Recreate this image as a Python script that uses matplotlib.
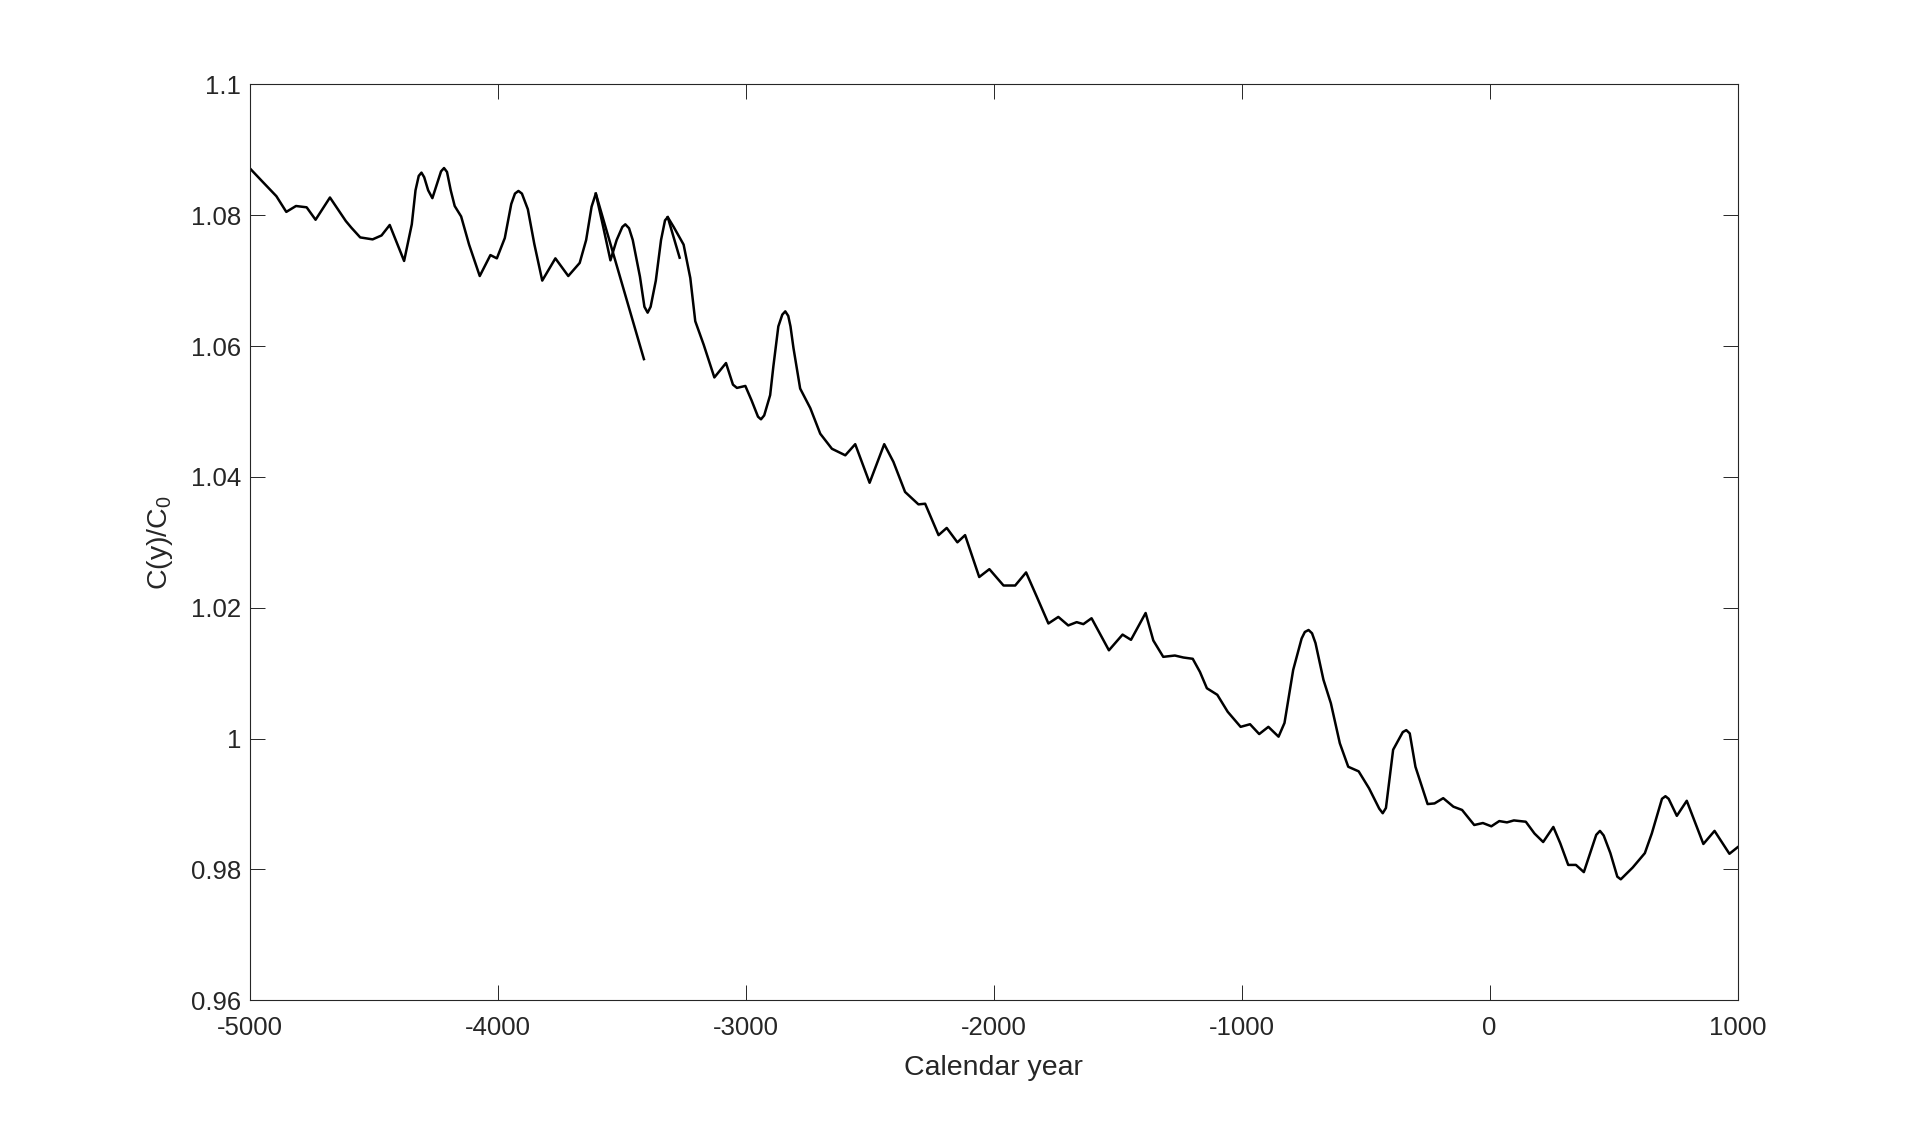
import matplotlib
matplotlib.use("Agg")
import matplotlib.pyplot as plt

plt.rcParams['font.family'] = ['Liberation Sans', 'DejaVu Sans']
plt.rcParams['mathtext.fontset'] = 'custom'
plt.rcParams['mathtext.rm'] = 'Liberation Sans'
plt.rcParams['mathtext.it'] = 'Liberation Sans'

# first record segment (ends with the steep drop)
years_a = [-5000, -4950, -4892, -4852, -4813, -4770, -4734, -4676, -4612, -4590,
           -4554, -4504, -4468, -4435, -4377, -4346, -4331, -4318, -4307, -4296,
           -4280, -4263, -4240, -4228, -4216, -4204, -4189, -4173, -4147, -4115,
           -4072, -4029, -4003, -3971, -3945, -3930, -3916, -3902, -3878, -3852,
           -3820, -3767, -3715, -3669, -3643, -3621, -3604, -3410]
ratio_a = [1.0872, 1.0852, 1.0829, 1.0805, 1.0814, 1.0812, 1.0793, 1.0827, 1.0791, 1.0781,
           1.0766, 1.0763, 1.0769, 1.0785, 1.0730, 1.0786, 1.0838, 1.0860, 1.0865, 1.0858,
           1.0838, 1.0826, 1.0853, 1.0867, 1.0872, 1.0866, 1.0838, 1.0814, 1.0798, 1.0755,
           1.0707, 1.0739, 1.0734, 1.0765, 1.0817, 1.0833, 1.0837, 1.0833, 1.0809, 1.0756,
           1.0700, 1.0734, 1.0707, 1.0727, 1.0762, 1.0813, 1.0833, 1.0580]

# short overlapping segment
years_b = [-3604, -3577, -3545, -3520, -3497, -3485, -3470, -3455, -3426, -3408,
           -3395, -3383, -3362, -3341, -3325, -3314, -3266]
ratio_b = [1.0833, 1.0787, 1.0731, 1.0762, 1.0782, 1.0786, 1.0780, 1.0762, 1.0706, 1.0660,
           1.0651, 1.0660, 1.0700, 1.0762, 1.0792, 1.0797, 1.0735]

# main record
years_c = [-3314, -3290, -3250, -3223, -3203, -3169, -3126, -3079, -3051, -3035,
           -3001, -2976, -2950, -2938, -2925, -2901, -2888, -2868, -2852, -2840,
           -2828, -2819, -2807, -2780, -2739, -2699, -2652, -2598, -2558, -2500,
           -2441, -2404, -2357, -2303, -2276, -2222, -2189, -2146, -2115, -2058,
           -2017, -1960, -1913, -1869, -1826, -1779, -1739, -1699, -1665, -1638,
           -1605, -1535, -1480, -1446, -1387, -1356, -1316, -1269, -1235, -1197,
           -1168, -1140, -1098, -1056, -1004, -966, -929, -892, -851, -827,
           -792, -758, -745, -730, -716, -702, -670, -640, -604, -570,
           -528, -486, -445, -431, -418, -389, -350, -336, -322, -299,
           -250, -222, -187, -146, -111, -62, -27, 7, 39, 70,
           98, 146, 181, 216, 257, 285, 317, 348, 380, 430,
           445, 460, 487, 515, 529, 577, 626, 654, 695, 709,
           722, 755, 795, 862, 907, 967, 1000]
ratio_c = [1.0797, 1.0782, 1.0755, 1.0704, 1.0638, 1.0602, 1.0552, 1.0574, 1.0541, 1.0536,
           1.0539, 1.0517, 1.0492, 1.0488, 1.0494, 1.0525, 1.0569, 1.0630, 1.0648, 1.0653,
           1.0646, 1.0630, 1.0597, 1.0535, 1.0505, 1.0466, 1.0443, 1.0433, 1.0450, 1.0391,
           1.0450, 1.0423, 1.0377, 1.0358, 1.0359, 1.0311, 1.0322, 1.0300, 1.0311, 1.0247,
           1.0259, 1.0234, 1.0234, 1.0254, 1.0217, 1.0176, 1.0186, 1.0173, 1.0178, 1.0175,
           1.0184, 1.0135, 1.0159, 1.0151, 1.0192, 1.0150, 1.0125, 1.0127, 1.0124, 1.0122,
           1.0102, 1.0077, 1.0067, 1.0041, 1.0018, 1.0022, 1.0007, 1.0018, 1.0003, 1.0024,
           1.0105, 1.0153, 1.0163, 1.0166, 1.0161, 1.0146, 1.0090, 1.0054, 0.9993, 0.9957,
           0.9950, 0.9924, 0.9893, 0.9886, 0.9894, 0.9983, 1.0010, 1.0013, 1.0008, 0.9957,
           0.9900, 0.9901, 0.9909, 0.9896, 0.9891, 0.9868, 0.9871, 0.9866, 0.9874, 0.9872,
           0.9875, 0.9873, 0.9855, 0.9842, 0.9865, 0.9840, 0.9807, 0.9807, 0.9796, 0.9853,
           0.9859, 0.9852, 0.9825, 0.9789, 0.9785, 0.9803, 0.9825, 0.9855, 0.9908, 0.9912,
           0.9908, 0.9882, 0.9905, 0.9839, 0.9859, 0.9824, 0.9834]

xticks = [-5000, -4000, -3000, -2000, -1000, 0, 1000]
yticks = [0.96, 0.98, 1.0, 1.02, 1.04, 1.06, 1.08, 1.1]
ytick_labels = ['0.96', '0.98', '1', '1.02', '1.04', '1.06', '1.08', '1.1']

axcol = '#262626'

fig = plt.figure(figsize=(19.2, 11.24), dpi=100)
ax = fig.add_axes([0.13, 0.11, 0.775, 0.815])

for xs, ys in [(years_a, ratio_a), (years_b, ratio_b), (years_c, ratio_c)]:
    ax.plot(xs, ys, color='black', lw=1.8, solid_joinstyle='round')

ax.set_xlim(-5000, 1000)
ax.set_ylim(0.96, 1.1)
ax.set_xticks(xticks)
ax.set_xticklabels([str(t) for t in xticks])
ax.set_yticks(yticks)
ax.set_yticklabels(ytick_labels)

ax.tick_params(direction='in', length=10.7, width=0.7, colors=axcol,
               labelsize=18.5, top=True, right=True)
ax.tick_params(axis='x', pad=11)
ax.tick_params(axis='y', pad=6)
for s in ax.spines.values():
    s.set_color(axcol)
    s.set_linewidth(0.8)

ax.set_xlabel('Calendar year', fontsize=20.5, color=axcol, labelpad=11)
ax.set_ylabel('C(y)/C$_0$', fontsize=20.5, color=axcol)
ax.yaxis.set_label_coords(-0.050, 0.5)

fig.savefig('out.png', dpi=100)
